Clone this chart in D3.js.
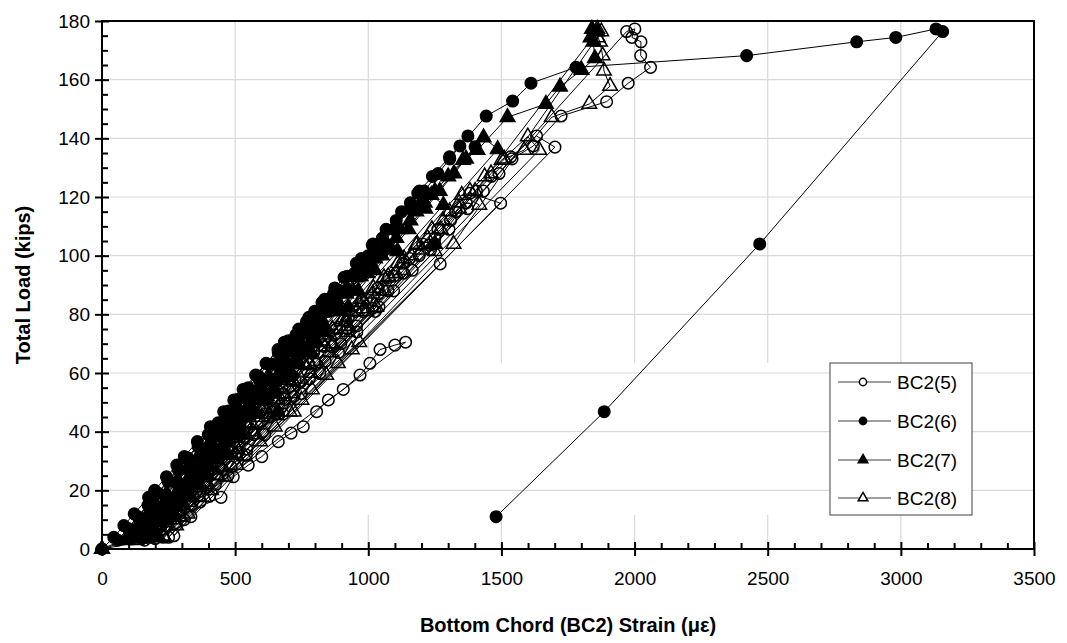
<!DOCTYPE html>
<html><head><meta charset="utf-8">
<script src="https://cdn.jsdelivr.net/npm/d3@7"></script>
<style>
body{margin:0;background:#fff}
text{font-family:"Liberation Sans",Arial,sans-serif}
</style>
</head><body>
<svg id="chart" width="1067" height="643"></svg>
<script>
// Bottom chord BC2 strain gauges under cyclic loading: [strain (με), total load (kips)]
const seriesNames = ["BC2(5)", "BC2(6)", "BC2(7)", "BC2(8)"];
const xTickValues = [0, 500, 1000, 1500, 2000, 2500, 3000, 3500];
const yTickValues = [0, 20, 40, 60, 80, 100, 120, 140, 160, 180];

const bc25 = [
  [0,0],[447,17.6],[493,24.6],[549,28.6],[600,31.5],[662,36.6],[710,39.5],[756,41.7],[806,46.8],[850,50.8],[906,54.4],[969,59.3],[1006,63.3],[1044,68],[1100,69.5],[1140,70.5],
  [160,3],[200,7],[239,11],[279,15],[319,19],[359,23],[398,27],[438,31],[478,35],[517,39],[557,43],[597,47],[637,51],[676,55],[716,59],[756,63],[795,67],[835,71],[880,75],[925,79],[981,84],[1040,82.5],
  [200,3.5],[244,8],[292,13],[341,18],[389,23],[438,28],[486,33],[535,38],[583,43],[632,48],[680,53],[725,57.6],[777,63],[835,69],[874,73],[918,77.5],[952,81],[993,85.1],[1037,89],[1077,92.6],[1131,97.4],[1230,103.6],[1270,97.2],
  [230,4],[279,9],[337,15],[396,21],[454,27],[512,33],[571,39],[629,45],[688,51],[746,57],[805,63],[863,69],[921,75],[980,81],[1038,87],[1097,93],[1155,99],[1204,104],[1261,109],[1328,115],[1382,121.3],[1497,117.9],
  [250,4],[309,10],[368,16],[426,22],[485,28],[544,34],[603,40],[662,46],[721,52],[779,58],[838,64],[897,70],[956,76],[1015,82],[1074,88],[1132,94],[1191,100],[1250,106],[1309,112],[1368,118],[1406,122],[1462,127],[1535,133.7],[1632,140.8],[1701,137],
  [270,4.5],[334,11],[403,18],[473,25],[542,32],[611,39],[680,46],[749,53],[818,60],[888,67],[957,74],[1026,81],[1095,88],[1165,95],[1234,102],[1303,109],[1372,116],[1432,122],[1491,128],[1540,133],[1620,137.4],[1724,147.6],[1895,152.5],[1976,158.8],[2060,164.2],[2023,168.2],[2024,172.9],[1990,174.4],[2001,177.3],[1970,176.4],[1250,104],[640,46.8],[230,11]
];
const bc26 = [
  [0,0],[44,4],[82,8],[121,12],[175,17.6],[198,20],[242,24.6],[281,28.6],[309,31.5],[358,36.6],[407,41.7],[457,46.8],[495,50.8],[530,54.4],[577,59.3],[616,63.3],[661,68],[685,70.5],
  [60,3],[98,7],[135,11],[173,15],[211,19],[248,23],[286,27],[323,31],[361,35],[399,39],[436,43],[474,47],[511,51],[549,55],[587,59],[624,63],[662,67],[700,71],[739,75],[777,79],[826,84],[880,82.5],
  [110,3.5],[150,8],[194,13],[239,18],[283,23],[328,28],[372,33],[417,38],[461,43],[506,48],[550,53],[591,57.6],[639,63],[692,69],[728,73],[768,77.5],[799,81],[836,85.1],[874,89],[909,92.6],[955,97.4],[1015,103.6],[1054,101.5],
  [140,4],[184,9],[237,15],[289,21],[342,27],[395,33],[447,39],[500,45],[553,51],[606,57],[658,63],[711,69],[764,75],[816,81],[869,87],[921,93],[974,99],[1018,104],[1067,109],[1125,115],[1186,121.3],[1204,118.1],
  [160,4],[212,10],[265,16],[318,22],[370,28],[423,34],[475,40],[528,46],[580,52],[633,58],[685,64],[738,70],[790,76],[843,82],[895,88],[948,94],[1000,100],[1053,106],[1105,112],[1158,118],[1192,122],[1241,127],[1305,133.7],[1374,140.8],[1401,137.1],
  [185,4.5],[242,11],[303,18],[364,25],[425,32],[486,39],[547,46],[608,53],[669,60],[730,67],[791,74],[852,81],[913,88],[974,95],[1035,102],[1096,109],[1157,116],[1210,122],[1262,128],[1306,133],[1344,137.4],[1443,147.6],[1542,152.7],[1611,158.8],[1780,164.2],[2421,168.2],[2834,172.9],[2981,174.4],[3132,177.3],[3157,176.4],[2470,104],[1886,46.8],[1480,11]
];
const bc27 = [
  [0,0],[140,4],[180,8],[220,12],[276,17.6],[300,20],[346,24.6],[386,28.6],[415,31.5],[466,36.6],[517,41.7],[568,46.8],[608,50.8],[644,54.4],[693,59.3],[733,63.3],[780,68],[805,70.5],
  [90,3],[128,7],[166,11],[205,15],[243,19],[281,23],[319,27],[358,31],[396,35],[434,39],[472,43],[511,47],[549,51],[587,55],[625,59],[663,63],[702,67],[740,71],[780,75],[820,79],[870,84],[925,82.5],
  [140,3.5],[181,8],[226,13],[272,18],[317,23],[362,28],[408,33],[453,38],[499,43],[544,48],[589,53],[631,57.6],[680,63],[734,69],[770,73],[811,77.5],[843,81],[881,85.1],[920,89],[956,92.6],[1004,97.4],[1066,103.6],[1110,101.5],
  [170,4],[215,9],[269,15],[323,21],[377,27],[431,33],[485,39],[539,45],[593,51],[647,57],[701,63],[755,69],[809,75],[863,81],[917,87],[971,93],[1025,99],[1070,104],[1120,109],[1180,115],[1237,120.7],[1282,117.3],
  [190,4],[244,10],[298,16],[351,22],[405,28],[459,34],[513,40],[567,46],[620,52],[674,58],[728,64],[782,70],[836,76],[889,82],[943,88],[997,94],[1051,100],[1105,106],[1158,112],[1212,118],[1250,122],[1300,127],[1356,132.6],[1433,140.3],[1486,136.3],
  [210,4.5],[269,11],[332,18],[395,25],[458,32],[521,39],[584,46],[647,53],[710,60],[773,67],[836,74],[899,81],[962,88],[1025,95],[1088,102],[1151,109],[1214,116],[1268,122],[1322,128],[1367,133],[1410,136],[1523,147.2],[1667,151.7],[1720,157.6],[1801,163.3],[1851,167.3],[1845,172.9],[1835,174.4],[1840,177.3],[1860,176.4],[1250,104],[660,46.8],[250,11]
];
const bc28 = [
  [0,0],[234,4],[278,8],[322,12],[384,17.6],[410,20],[461,24.6],[505,28.6],[537,31.5],[593,36.6],[649,41.7],[705,46.8],[749,50.8],[788,54.4],[842,59.3],[886,63.3],[938,68],[966,70.5],
  [130,3],[171,7],[211,11],[252,15],[293,19],[333,23],[374,27],[414,31],[455,35],[496,39],[536,43],[577,47],[618,51],[658,55],[699,59],[740,63],[780,67],[821,71],[865,75],[909,79],[964,84],[1030,82.5],
  [170,3.5],[214,8],[264,13],[313,18],[362,23],[412,28],[461,33],[510,38],[559,43],[609,48],[658,53],[703,57.6],[757,63],[816,69],[855,73],[900,77.5],[934,81],[976,85.1],[1019,89],[1059,92.6],[1111,97.4],[1180,103.6],[1250,101.5],
  [195,4],[244,9],[304,15],[363,21],[422,27],[482,33],[541,39],[600,45],[660,51],[719,57],[778,63],[838,69],[897,75],[956,81],[1016,87],[1075,93],[1134,99],[1184,104],[1239,109],[1305,115],[1351,120.7],[1417,117.3],
  [210,4],[270,10],[329,16],[389,22],[448,28],[508,34],[567,40],[627,46],[686,52],[746,58],[805,64],[865,70],[924,76],[984,82],[1043,88],[1103,94],[1162,100],[1222,106],[1281,112],[1341,118],[1382,122],[1437,127],[1501,132.6],[1599,140.6],[1642,136],
  [230,4.5],[295,11],[365,18],[434,25],[504,32],[574,39],[644,46],[713,53],[783,60],[853,67],[923,74],[993,81],[1062,88],[1132,95],[1202,102],[1272,109],[1341,116],[1401,122],[1461,128],[1511,133],[1585,136],[1689,147.2],[1830,151.7],[1908,157.8],[1885,163],[1880,168.2],[1870,172.9],[1862,174.4],[1860,177.3],[1875,176.4],[1320,104],[720,46.8],[290,11]
];

const seriesData = [bc25, bc26, bc27, bc28];
const markerShapes = ["circle", "circle", "triangle", "triangle"];
const markerFilled = [false, true, true, false];

const svg = d3.select("#chart");
const plotLeft = 102, plotRight = 1034, plotTop = 21, plotBottom = 549;
const x = d3.scaleLinear().domain([0, 3500]).range([plotLeft, plotRight]);
const y = d3.scaleLinear().domain([0, 180]).range([plotBottom, plotTop]);

// legend box bounds (also used to break the vertical gridlines)
const legendBox = {x: 830, y: 363, w: 142, h: 152};

// gridlines
const grid = svg.append("g").attr("stroke", "#d9d9d9").attr("stroke-width", 1.2);
yTickValues.filter(v => v > 0 && v < 180).forEach(v => {
  grid.append("line").attr("x1", plotLeft).attr("x2", plotRight).attr("y1", y(v)).attr("y2", y(v));
});
xTickValues.filter(v => v > 0 && v < 3500).forEach(v => {
  if (v >= 1000) {
    grid.append("line").attr("x1", x(v)).attr("x2", x(v)).attr("y1", plotTop).attr("y2", legendBox.y);
    grid.append("line").attr("x1", x(v)).attr("x2", x(v)).attr("y1", legendBox.y + legendBox.h).attr("y2", plotBottom);
  } else {
    grid.append("line").attr("x1", x(v)).attr("x2", x(v)).attr("y1", plotTop).attr("y2", plotBottom);
  }
});

// series: thin connecting lines, then markers
const line = d3.line().x(d => x(d[0])).y(d => y(d[1]));
function symbolPath(shape, big) {
  if (shape === "circle") return d3.symbol().type(d3.symbolCircle).size(big ? 105 : 42)();
  return d3.symbol().type(d3.symbolTriangle).size(big ? 92 : 40)();
}
seriesData.forEach((data, i) => {
  const g = svg.append("g");
  g.append("path").attr("d", line(data)).attr("fill", "none").attr("stroke", "#000").attr("stroke-width", 1);
  g.selectAll("path.m").data(data).join("path").attr("class", "m")
    .attr("d", symbolPath(markerShapes[i], true))
    .attr("transform", d => `translate(${x(d[0])},${y(d[1])})`)
    .attr("fill", markerFilled[i] ? "#000" : "none")
    .attr("stroke", "#000").attr("stroke-width", 1.5);
});

// frame
svg.append("rect").attr("x", plotLeft).attr("y", plotTop).attr("width", plotRight - plotLeft).attr("height", plotBottom - plotTop)
  .attr("fill", "none").attr("stroke", "#000").attr("stroke-width", 2);

// axes: major ticks cross the axis line, minor ticks point inward
const xMinor = d3.range(0, 3501, 100).filter(v => v % 500 !== 0);
const yMinor = d3.range(0, 181, 5).filter(v => v % 20 !== 0);
const fontSize = 19;

const xAxis = svg.append("g").attr("transform", `translate(0,${plotBottom})`)
  .call(d3.axisBottom(x).tickValues(xTickValues).tickFormat(d3.format("d")).tickSize(7).tickPadding(16));
const xIn = svg.append("g").attr("transform", `translate(0,${plotBottom})`)
  .call(d3.axisBottom(x).tickValues(xTickValues).tickSize(-7).tickFormat(""));
const xMin = svg.append("g").attr("transform", `translate(0,${plotBottom})`)
  .call(d3.axisBottom(x).tickValues(xMinor).tickSize(-6).tickFormat(""));
const yAxis = svg.append("g").attr("transform", `translate(${plotLeft},0)`)
  .call(d3.axisLeft(y).tickValues(yTickValues).tickSize(7).tickPadding(5));
const yIn = svg.append("g").attr("transform", `translate(${plotLeft},0)`)
  .call(d3.axisLeft(y).tickValues(yTickValues).tickSize(-7).tickFormat(""));
const yMin = svg.append("g").attr("transform", `translate(${plotLeft},0)`)
  .call(d3.axisLeft(y).tickValues(yMinor).tickSize(-6).tickFormat(""));
[xAxis, xIn, xMin, yAxis, yIn, yMin].forEach(a => {
  a.select(".domain").remove();
  a.selectAll(".tick line").attr("stroke", "#000").attr("stroke-width", 2);
  a.selectAll(".tick text").attr("font-size", fontSize).attr("fill", "#000")
    .attr("font-family", '"Liberation Sans", Arial, sans-serif');
});

// axis titles
svg.append("text").attr("x", (plotLeft + plotRight) / 2).attr("y", 632).attr("text-anchor", "middle")
  .attr("font-size", 20).attr("font-weight", "bold")
  .text("Bottom Chord (BC2) Strain (με)");
svg.append("text").attr("transform", `translate(30,${(plotTop + plotBottom) / 2}) rotate(-90)`)
  .attr("text-anchor", "middle").attr("font-size", 20).attr("font-weight", "bold")
  .text("Total Load (kips)");

// legend
const lg = svg.append("g");
lg.append("rect").attr("x", legendBox.x).attr("y", legendBox.y).attr("width", legendBox.w).attr("height", legendBox.h)
  .attr("fill", "#fff").attr("stroke", "#404040").attr("stroke-width", 1);
const rowY = [382, 421, 460, 498];
seriesNames.forEach((name, i) => {
  lg.append("line").attr("x1", 838).attr("x2", 891).attr("y1", rowY[i]).attr("y2", rowY[i])
    .attr("stroke", "#404040").attr("stroke-width", 1.2);
  lg.append("path").attr("d", symbolPath(markerShapes[i], false))
    .attr("transform", `translate(863,${rowY[i]})`)
    .attr("fill", markerFilled[i] ? "#000" : "#fff").attr("stroke", "#000").attr("stroke-width", 1.5);
  lg.append("text").attr("x", 897).attr("y", rowY[i] + 7).attr("font-size", fontSize).text(name);
});
</script>
</body></html>
